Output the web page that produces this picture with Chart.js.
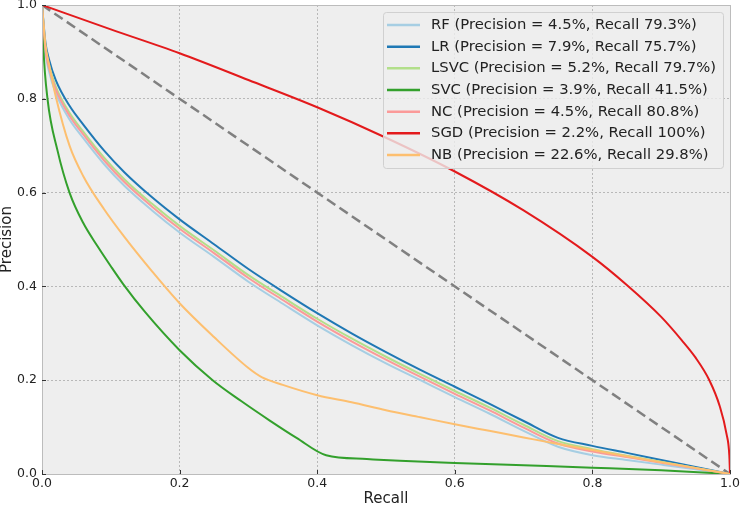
<!DOCTYPE html>
<html>
<head>
<meta charset="utf-8">
<script src="https://cdn.jsdelivr.net/npm/chart.js"></script>
<style>
  body { margin: 0; background: #fff; }
  #wrap { width: 740px; height: 507px; }
</style>
</head>
<body>
<div id="wrap"><canvas id="prChart" width="740" height="507"></canvas></div>

<script>

// recall grid shared by the four close curves (RF, LR, LSVC, NC)
const recallGrid = [0, 0.005, 0.01, 0.02, 0.04, 0.06, 0.09, 0.12, 0.16, 0.2, 0.25, 0.3, 0.35, 0.4,
    0.45, 0.5, 0.55, 0.6, 0.65, 0.7, 0.75, 0.8, 0.85, 0.9, 0.95, 1.0];

const rfPrecision = [1.0, 0.9, 0.86, 0.812, 0.756, 0.716, 0.661, 0.614, 0.562, 0.515, 0.463, 0.41, 0.363, 0.317,
    0.275, 0.236, 0.2, 0.164, 0.129, 0.092, 0.058, 0.04, 0.03, 0.02, 0.01, 0.0];
const lrPrecision = [1.0, 0.92, 0.885, 0.84, 0.785, 0.745, 0.69, 0.643, 0.59, 0.543, 0.49, 0.437, 0.389, 0.343,
    0.30, 0.26, 0.222, 0.186, 0.15, 0.113, 0.077, 0.06, 0.045, 0.03, 0.015, 0.0];
const lsvcPrecision = [1.0, 0.91, 0.873, 0.826, 0.77, 0.73, 0.675, 0.628, 0.576, 0.529, 0.477, 0.424, 0.377, 0.331,
    0.289, 0.25, 0.213, 0.177, 0.142, 0.105, 0.07, 0.053, 0.039, 0.026, 0.013, 0.0];
const ncPrecision = [1.0, 0.905, 0.867, 0.82, 0.764, 0.724, 0.669, 0.622, 0.57, 0.523, 0.471, 0.418, 0.371, 0.325,
    0.283, 0.244, 0.207, 0.171, 0.136, 0.099, 0.065, 0.048, 0.036, 0.024, 0.012, 0.0];

const svcRecall = [0, 0.002, 0.008, 0.0225, 0.04, 0.06, 0.081, 0.1, 0.118, 0.15, 0.2, 0.248, 0.29, 0.33, 0.37,
    0.413, 0.472, 0.52, 0.6, 0.7, 0.8, 0.9, 1.0];
const svcPrecision = [1.0, 0.91, 0.8, 0.69, 0.6, 0.535, 0.485, 0.443, 0.405, 0.345, 0.264, 0.2, 0.155, 0.115, 0.077,
    0.04, 0.032, 0.028, 0.0235, 0.0185, 0.0135, 0.008, 0.0];

const sgdRecall = [0, 0.1, 0.2, 0.3, 0.4, 0.5, 0.6, 0.7, 0.8, 0.85, 0.9, 0.93, 0.95, 0.97, 0.985, 0.995, 0.999, 1.0];
const sgdPrecision = [1.0, 0.948, 0.897, 0.84, 0.782, 0.717, 0.645, 0.562, 0.463, 0.403, 0.335, 0.285, 0.248, 0.2,
    0.145, 0.085, 0.04, 0.0];

const nbRecall = [0, 0.005, 0.01, 0.02, 0.04, 0.06, 0.09, 0.12, 0.16, 0.2, 0.25, 0.3, 0.32, 0.35, 0.4, 0.45,
    0.5, 0.55, 0.6, 0.65, 0.7, 0.75, 0.8, 0.85, 0.9, 0.95, 1.0];
const nbPrecision = [1.0, 0.915, 0.875, 0.805, 0.70, 0.635, 0.565, 0.505, 0.432, 0.364, 0.292, 0.226, 0.206, 0.19,
    0.168, 0.153, 0.136, 0.121, 0.106, 0.092, 0.078, 0.064, 0.051, 0.038, 0.025, 0.013, 0.0];

const diagRecall = [0, 1];
const diagPrecision = [1, 0];

const modelLabels = [
    'RF (Precision = 4.5%, Recall 79.3%)',
    'LR (Precision = 7.9%, Recall 75.7%)',
    'LSVC (Precision = 5.2%, Recall 79.7%)',
    'SVC (Precision = 3.9%, Recall 41.5%)',
    'NC (Precision = 4.5%, Recall 80.8%)',
    'SGD (Precision = 2.2%, Recall 100%)',
    'NB (Precision = 22.6%, Recall 29.8%)'
];

const modelColors = ['#a6cee3', '#1f78b4', '#b2df8a', '#33a02c', '#fb9a99', '#e31a1c', '#fdbf6f'];

const tickValues = [0, 0.2, 0.4, 0.6, 0.8, 1.0];

const seriesX = [recallGrid, recallGrid, recallGrid, svcRecall, recallGrid, sgdRecall, nbRecall];
const seriesY = [rfPrecision, lrPrecision, lsvcPrecision, svcPrecision, ncPrecision, sgdPrecision, nbPrecision];

function toPoints(xs, ys) {
    return xs.map(function(x, i) { return {x: x, y: ys[i]}; });
}

const FONT = "'DejaVu Sans', sans-serif";
const TEXT = '#222222';

const datasets = modelLabels.map(function(label, i) {
    return {
        label: label,
        data: toPoints(seriesX[i], seriesY[i]),
        borderColor: modelColors[i],
        backgroundColor: modelColors[i],
        borderWidth: 2,
        pointRadius: 0,
        cubicInterpolationMode: 'monotone',
        order: 20 - i
    };
});

datasets.push({
    label: '',
    data: toPoints(diagRecall, diagPrecision),
    borderColor: '#808080',
    borderWidth: 2.5,
    borderDash: [10, 5],
    pointRadius: 0,
    order: 30
});

// grey axes face, frame, inward tick marks and the boxed legend
const bmhFrame = {
    id: 'bmhFrame',
    beforeDraw(chart) {
        const {ctx, chartArea: a} = chart;
        ctx.save();
        ctx.fillStyle = '#eeeeee';
        ctx.fillRect(a.left, a.top, a.right - a.left, a.bottom - a.top);
        ctx.restore();
    },
    afterDraw(chart) {
        const {ctx, chartArea: a, scales} = chart;
        ctx.save();
        ctx.strokeStyle = '#bcbcbc';
        ctx.lineWidth = 1;
        ctx.strokeRect(a.left + 0.5, a.top + 0.5, a.right - a.left, a.bottom - a.top);

        ctx.strokeStyle = '#333333';
        ctx.beginPath();
        tickValues.forEach(function(v) {
            const px = Math.round(scales.x.getPixelForValue(v)) + 0.5;
            ctx.moveTo(px, a.bottom);
            ctx.lineTo(px, a.bottom - 4);
            const py = Math.round(scales.y.getPixelForValue(v)) + 0.5;
            ctx.moveTo(a.left, py);
            ctx.lineTo(a.left + 4, py);
        });
        ctx.stroke();

        // legend
        const bx = 383, by = 12, bw = 340, bh = 156;
        ctx.beginPath();
        ctx.roundRect(bx + 0.5, by + 0.5, bw, bh, 3);
        ctx.fillStyle = 'rgba(238,238,238,0.8)';
        ctx.fill();
        ctx.strokeStyle = '#d0d0d0';
        ctx.stroke();

        ctx.font = '14.8px ' + FONT;
        ctx.textBaseline = 'middle';
        ctx.textAlign = 'left';
        chart.data.datasets.forEach(function(ds, i) {
            if (!ds.label) return;
            const y = 25 + i * 21.67;
            ctx.strokeStyle = ds.borderColor;
            ctx.lineWidth = 2.5;
            ctx.beginPath();
            ctx.moveTo(387, y);
            ctx.lineTo(420, y);
            ctx.stroke();
            ctx.fillStyle = TEXT;
            ctx.fillText(ds.label, 431, y);
        });
        ctx.restore();
    }
};

new Chart(document.getElementById('prChart'), {

    type: 'line',

    data: {
        datasets: datasets
    },

    options: {

        responsive: false,
        animation: false,

        layout: {
            padding: {top: 5, right: 10, left: 0, bottom: 0}
        },

        plugins: {
            legend: {display: false},
            tooltip: {enabled: false}
        },

        scales: {

            x: {
                type: 'linear',
                min: 0,
                max: 1,
                afterFit: function(s) {
                    s.height = 33;
                    s.paddingLeft = 0;
                    s.paddingRight = 0;
                },
                ticks: {
                    stepSize: 0.2,
                    padding: 2,
                    color: TEXT,
                    font: {family: FONT, size: 12.5},
                    callback: function(v) { return v.toFixed(1); }
                },
                grid: {
                    color: '#b8b8b8',
                    lineWidth: 1,
                    drawTicks: false
                },
                border: {color: '#bcbcbc', dash: [2, 2]},
                title: {
                    display: true,
                    text: 'Recall',
                    color: TEXT,
                    font: {family: FONT, size: 15, lineHeight: 1},
                    padding: 0
                }
            },

            y: {
                min: 0,
                max: 1,
                afterFit: function(s) {
                    s.width = 42;
                    s.paddingTop = 0;
                    s.paddingBottom = 0;
                },
                ticks: {
                    stepSize: 0.2,
                    padding: 5,
                    color: TEXT,
                    font: {family: FONT, size: 12.5},
                    callback: function(v) { return v.toFixed(1); }
                },
                grid: {
                    color: '#b8b8b8',
                    lineWidth: 1,
                    drawTicks: false
                },
                border: {color: '#bcbcbc', dash: [2, 2]},
                title: {
                    display: true,
                    text: 'Precision',
                    color: TEXT,
                    font: {family: FONT, size: 15, lineHeight: 1},
                    padding: 0
                }
            }

        }

    },

    plugins: [bmhFrame]

});

</script>
</body>
</html>
